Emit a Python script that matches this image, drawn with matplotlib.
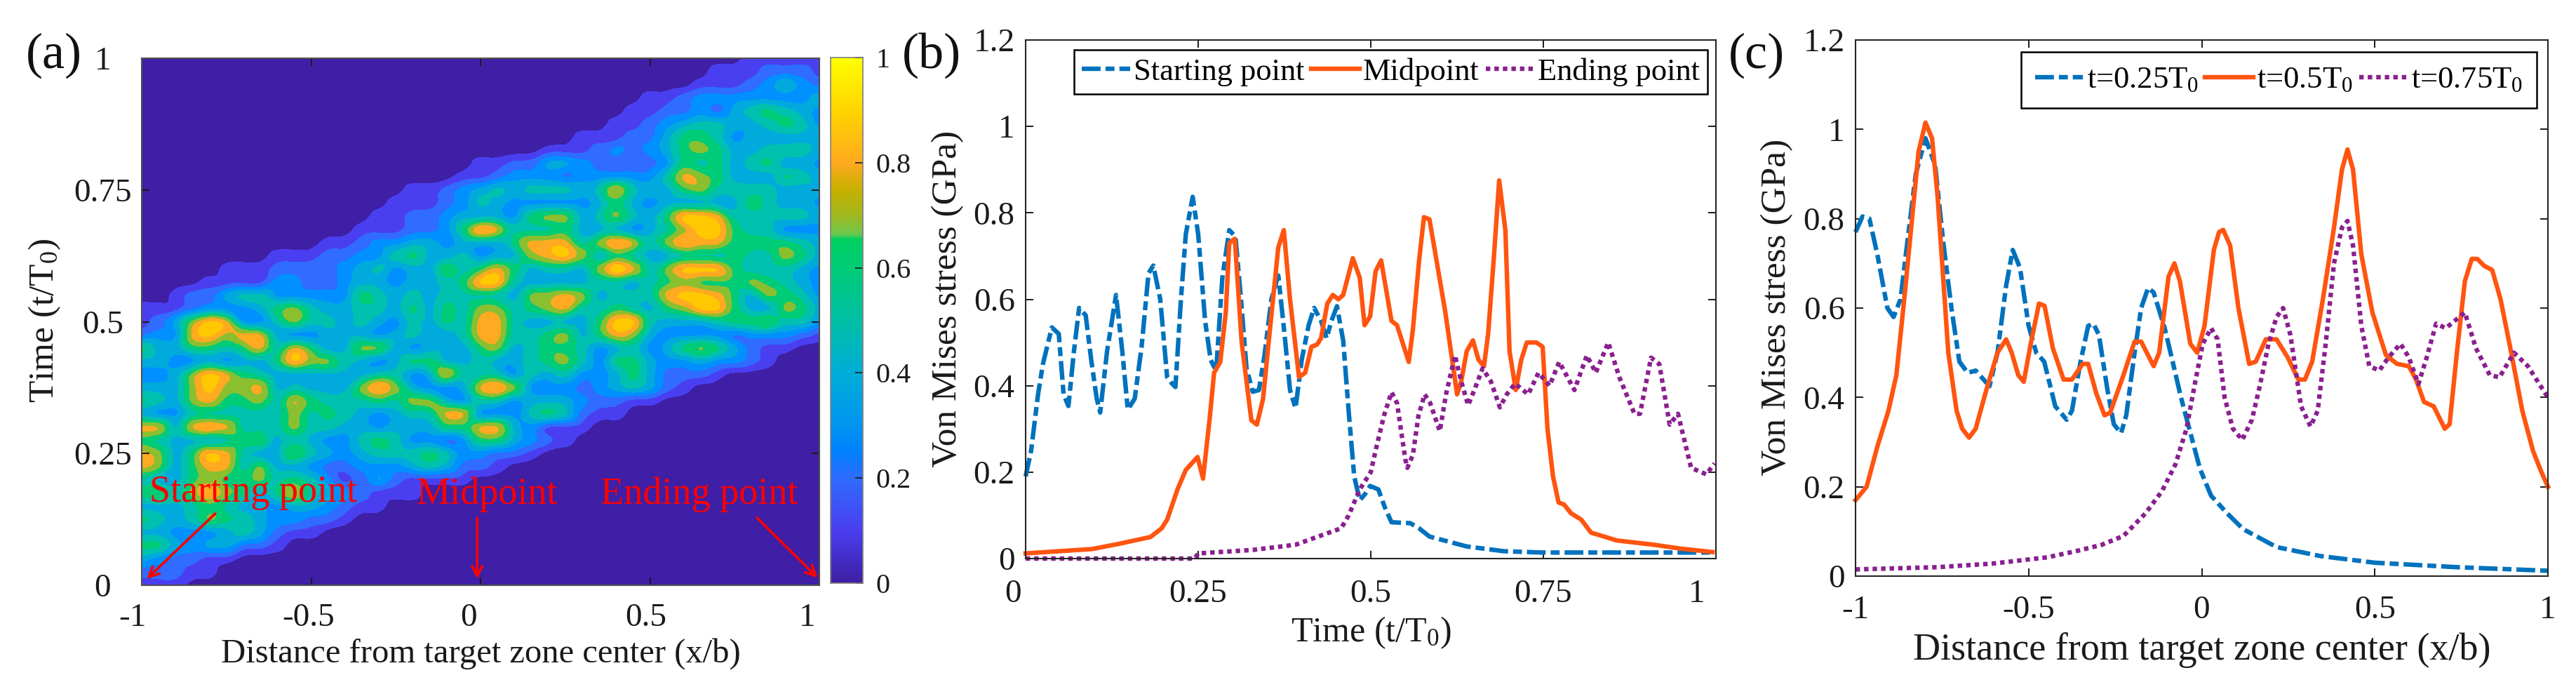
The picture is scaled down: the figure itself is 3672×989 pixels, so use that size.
import numpy as np
import matplotlib
matplotlib.use("Agg")
import matplotlib.pyplot as plt
import matplotlib.tri as mtri
from matplotlib.colors import LinearSegmentedColormap
from matplotlib.transforms import ScaledTranslation

plt.rcParams["font.family"] = ["Liberation Serif", "DejaVu Serif"]
plt.rcParams["mathtext.fontset"] = "custom"
plt.rcParams["mathtext.rm"] = "Liberation Serif"
plt.rcParams["mathtext.default"] = "regular"

W, H = 3672, 989

# panel (a): band number per cell, x from -1 to 1 in 41 columns, rows t=1 down to t=0
field_rows = [
    "00000 00000 00000 00000 00000 00000 00000 01111 1",
    "00000 00000 00000 00000 00000 00000 00001 11222 1",
    "00000 00000 00000 00000 00000 00000 00011 12353 2",
    "00000 00000 00000 00000 00000 00000 11233 33333 4",
    "00000 00000 00000 00000 00000 00001 12232 45654 3",
    "00000 00000 00000 00000 00000 00011 23455 44565 3",
    "00000 00000 00000 00000 00000 01112 24665 34444 4",
    "00000 00000 00000 00000 00001 11232 34676 44555 4",
    "00000 00000 00000 00000 11224 43222 23656 45644 3",
    "00000 00000 00000 00001 12333 23333 35876 44465 4",
    "00000 00000 00000 01123 45455 54585 44675 55544 4",
    "00000 00000 00000 11123 54333 33464 34444 46544 3",
    "00000 00000 00001 12234 44367 74575 46998 55555 4",
    "00000 00000 00011 12236 98555 64443 45799 65533 3",
    "00000 00000 01123 34434 44688 85798 57988 66665 4",
    "00000 00011 12233 56445 34478 97465 44555 65576 4",
    "00000 11122 22345 34475 68645 547A8 57999 65554 3",
    "00001 11133 22344 34456 99544 44554 56766 67654 3",
    "00122 45533 33365 45455 55477 87455 58998 64765 3",
    "11123 33467 54455 46465 77567 85565 46799 64476 4",
    "12479 83357 55454 35465 88544 44699 54445 66755 3",
    "23389 78843 34443 45445 88556 74687 43333 23332 1",
    "64466 56858 64477 43444 67456 65345 34676 42110 0",
    "44334 34469 77543 46644 54456 75366 43343 32100 0",
    "33479 86544 44445 53485 55354 53346 42221 00000 0",
    "44479 77845 44479 74334 89733 32345 42100 00000 0",
    "65478 66758 65556 57743 55344 43221 10000 00000 0",
    "43355 55557 56543 45588 33356 52110 00000 00000 0",
    "88489 85557 55443 44466 88431 11000 00000 00000 0",
    "65444 56745 43356 53323 66432 10000 00000 00000 0",
    "87469 85447 54345 55653 32210 00000 00000 00000 0",
    "87468 85744 32233 34542 21000 00000 00000 00000 0",
    "54467 66756 53124 21111 00000 00000 00000 00000 0",
    "67579 76468 54321 11000 00000 00000 00000 00000 0",
    "44456 54434 43211 00000 00000 00000 00000 00000 0",
    "65457 65433 22100 00000 00000 00000 00000 00000 0",
    "44333 45421 10000 00000 00000 00000 00000 00000 0",
    "66434 42210 00000 00000 00000 00000 00000 00000 0",
    "43221 10000 00000 00000 00000 00000 00000 00000 0",
    "22211 00000 00000 00000 00000 00000 00000 00000 0",
    "11100 00000 00000 00000 00000 00000 00000 00000 0",
]
band_colors = ["#3f1fa5", "#4a3ff0", "#2f6cff", "#0090ff", "#00aadc", "#00c0b0",
               "#00cc77", "#8abf30", "#ffaa20", "#ffc800", "#ffe600"]
cbar_stops = [(0, "#3f1fa5"), (0.1, "#4a3ff0"), (0.2, "#2f6cff"), (0.25, "#0082ff"),
              (0.3, "#0095f0"), (0.4, "#00aed8"), (0.5, "#00bfa5"), (0.6, "#00cc77"),
              (0.655, "#00d060"), (0.665, "#6fc850"), (0.7, "#a0b820"), (0.75, "#c8b000"),
              (0.8, "#ffaa20"), (0.85, "#ffbf10"), (0.9, "#ffd500"), (1, "#ffff00")]

# panel (b)
start_t = [0, .008, .018, .025, .038, .048, .055, .062, .07, .0775, .087, .095, .103, .108, .118, .131, .14, .148, .158, .168, .178, .185, .195, .205, .212, .217, .225, .232, .242, .25, .26, .268, .276, .285, .295, .304, .312, .32, .329, .338, .346, .356, .366, .375, .383, .391, .4, .41, .418, .428, .436, .443, .451, .46, .468, .476, .484, .492, .499, .511, .52, .53, .557, .57, .585, .639, .693, .747, .995]
start_v = [.19, .25, .38, .45, .535, .52, .38, .353, .48, .58, .563, .46, .37, .338, .48, .61, .48, .345, .37, .49, .66, .678, .6, .42, .405, .397, .6, .75, .837, .75, .55, .46, .434, .65, .76, .745, .6, .44, .386, .39, .47, .6, .655, .52, .39, .348, .46, .54, .58, .55, .51, .55, .584, .505, .34, .19, .135, .15, .168, .16, .12, .084, .082, .07, .051, .028, .017, .014, .014]
mid_t = [0, .096, .135, .181, .197, .205, .22, .232, .249, .257, .267, .273, .282, .29, .295, .303, .313, .327, .335, .344, .352, .366, .374, .383, .396, .405, .414, .422, .428, .437, .445, .453, .46, .474, .484, .491, .499, .507, .515, .53, .538, .546, .555, .561, .57, .577, .585, .592, .608, .625, .631, .639, .648, .656, .664, .67, .678, .686, .695, .701, .71, .718, .726, .74, .749, .756, .764, .772, .78, .79, .805, .819, .84, .856, .91, .949, .995]
mid_v = [.012, .022, .034, .05, .07, .09, .16, .205, .235, .185, .33, .43, .455, .57, .73, .74, .5, .32, .31, .37, .5, .72, .76, .6, .42, .43, .49, .495, .51, .59, .61, .6, .61, .695, .65, .54, .56, .665, .69, .55, .54, .5, .455, .53, .69, .79, .785, .72, .57, .38, .41, .48, .505, .46, .445, .52, .69, .875, .76, .48, .39, .46, .5, .5, .49, .3, .19, .13, .125, .105, .09, .06, .05, .042, .032, .023, .015]
end_t = [0, .245, .25, .329, .391, .422, .457, .468, .484, .5, .507, .519, .53, .538, .55, .553, .561, .569, .578, .586, .6, .609, .622, .631, .641, .65, .662, .674, .687, .697, .709, .728, .743, .759, .773, .795, .813, .826, .844, .86, .882, .89, .906, .918, .933, .945, .964, .986, .998]
end_v = [0, 0, .012, .02, .032, .05, .07, .1, .16, .2, .25, .33, .385, .36, .23, .21, .24, .33, .38, .36, .295, .38, .47, .41, .355, .39, .44, .41, .35, .38, .405, .38, .43, .4, .455, .39, .47, .43, .5, .42, .335, .335, .465, .45, .31, .335, .21, .195, .22]

# panel (c)
t25_x = [-1, -.98, -.96, -.937, -.908, -.89, -.87, -.85, -.826, -.798, -.77, -.747, -.723, -.7, -.676, -.653, -.613, -.59, -.565, -.546, -.525, -.5, -.478, -.455, -.423, -.39, -.375, -.35, -.328, -.313, -.297, -.273, -.254, -.233, -.218, -.194, -.175, -.155, -.139, -.107, -.084, -.06, -.036, -.005, .027, .074, .12, .216, .342, .5, .737, 1]
t25_v = [.77, .805, .80, .72, .6, .58, .62, .75, .9, .98, .92, .75, .6, .48, .455, .46, .425, .5, .65, .73, .69, .56, .5, .48, .38, .35, .37, .48, .56, .565, .54, .42, .34, .32, .36, .5, .6, .645, .635, .555, .48, .4, .33, .24, .18, .14, .105, .065, .045, .03, .02, .012]
t50_x = [-1, -.968, -.937, -.905, -.882, -.858, -.818, -.798, -.779, -.763, -.732, -.708, -.692, -.672, -.653, -.621, -.59, -.565, -.549, -.53, -.514, -.494, -.47, -.454, -.43, -.399, -.375, -.344, -.328, -.305, -.281, -.265, -.226, -.194, -.175, -.139, -.123, -.096, -.079, -.063, -.033, -.013, .008, .035, .05, .062, .082, .106, .137, .156, .185, .216, .248, .279, .298, .319, .35, .382, .405, .421, .437, .461, .493, .532, .564, .598, .619, .642, .67, .702, .716, .737, .76, .78, .796, .815, .839, .863, .894, .926, .957, .98, 1]
t50_v = [.17, .2, .29, .37, .45, .63, .95, 1.015, .98, .85, .5, .37, .33, .31, .33, .42, .5, .53, .5, .45, .435, .52, .61, .605, .51, .44, .44, .475, .475, .41, .36, .365, .45, .525, .525, .47, .5, .67, .7, .66, .52, .5, .56, .73, .77, .775, .74, .6, .475, .48, .53, .53, .49, .44, .44, .48, .62, .78, .91, .955, .91, .72, .59, .495, .475, .47, .44, .39, .38, .33, .34, .5, .66, .71, .71, .695, .685, .62, .5, .37, .28, .235, .2]
t75_x = [-1, -.763, -.605, -.447, -.368, -.289, -.226, -.163, -.115, -.076, -.044, -.02, .003, .027, .046, .066, .09, .117, .145, .169, .193, .216, .235, .256, .287, .314, .335, .358, .382, .405, .421, .437, .461, .484, .513, .54, .574, .598, .626, .65, .677, .705, .76, .792, .832, .86, .902, .942, 1]
t75_v = [.015, .02, .028, .042, .055, .07, .09, .14, .19, .25, .33, .43, .52, .555, .53, .4, .33, .305, .35, .43, .52, .58, .6, .54, .38, .335, .37, .52, .7, .78, .795, .74, .56, .47, .46, .49, .52, .49, .43, .49, .565, .555, .59, .51, .45, .445, .5, .47, .4]

x_ticks = [-1, -0.5, 0, 0.5, 1]
t_ticks = [0, 0.25, 0.5, 0.75, 1]
stress_ticks = [0, 0.2, 0.4, 0.6, 0.8, 1, 1.2]
cbar_ticks = [0, 0.2, 0.4, 0.6, 0.8, 1]

BLUE = "#0072bd"
ORANGE = "#ff5510"
PURPLE = "#8a2090"
FS = 34
LW = 4.6
DASHDOT = (0, (4.2, 1.1, 2, 1.1))
DOT = (0, (1, 0.9))


def fmt(v):
    return f"{v:g}"


def place(left, right, top, bottom):
    return fig.add_axes([left / W, 1 - bottom / H, (right - left) / W, (bottom - top) / H])


def dress(ax, xticks, yticks, pad_x, pad_y, xlabel, ylabel, label_y_px, label_x_px, label_mid_px, box, xlabel_fs=36):
    left, right, top, bottom = box
    ax.set_xticks(xticks, [fmt(v) for v in xticks])
    ax.set_yticks(yticks, [fmt(v) for v in yticks])
    ax.tick_params(direction="in", length=8, width=1.4, top=True, right=True, labelsize=FS,
                   colors="#1a1a1a")
    ax.tick_params(axis="x", pad=pad_x)
    ax.tick_params(axis="y", pad=pad_y)
    for s in ax.spines.values():
        s.set_linewidth(1.5)
        s.set_color("#262626")
    ax.set_xlabel(xlabel, fontsize=xlabel_fs, color="#1a1a1a", va="center")
    ax.xaxis.set_label_coords(0.5, (bottom - label_y_px) / (bottom - top))
    ax.set_ylabel(ylabel, fontsize=37, color="#1a1a1a", va="center")
    ax.yaxis.set_label_coords((label_x_px - left) / (right - left), (bottom - label_mid_px) / (bottom - top))


def nudge_xlabels(ax, shifts_px):
    # the 0 and 1 labels sit a little left of their ticks in the original
    for lab, dx in zip(ax.get_xticklabels(), shifts_px):
        lab.set_transform(lab.get_transform() + ScaledTranslation(dx / 100, 0, fig.dpi_scale_trans))


def soften(z, sigma):
    half = int(3 * sigma)
    kernel = np.exp(-0.5 * (np.arange(-half, half + 1) / sigma) ** 2)
    kernel /= kernel.sum()
    padded = np.pad(z, half, mode="edge")
    padded = np.apply_along_axis(np.convolve, 0, padded, kernel, mode="same")
    padded = np.apply_along_axis(np.convolve, 1, padded, kernel, mode="same")
    return padded[half:-half, half:-half]


fig = plt.figure(figsize=(W / 100, H / 100), dpi=100, facecolor="white")

# (a) contour map
box_a = (202, 1168, 83, 834)
ax_a = place(box_a[0], box_a[1], box_a[2], box_a[3])
grid = np.array([[int(c, 16) for c in row.replace(" ", "")] for row in field_rows], dtype=float)[::-1]
xs = np.linspace(-1, 1, grid.shape[1])
ts = np.linspace(0, 1, grid.shape[0])
xx, tt = np.meshgrid(xs, ts)
tri = mtri.Triangulation(xx.ravel(), tt.ravel())
smooth = mtri.CubicTriInterpolator(tri, grid.ravel(), kind="geom")
xf, tf = np.meshgrid(np.linspace(-1, 1, 401), np.linspace(0, 1, 401))
zf = soften(np.clip(np.ma.filled(smooth(xf, tf), 0), 0, 10), 2.5)
ax_a.contourf(xf, tf, zf, levels=np.arange(-0.5, 11), colors=band_colors)
ax_a.set_xlim(-1, 1)
ax_a.set_ylim(0, 1)
dress(ax_a, x_ticks, t_ticks, 18, 40, "Distance from target zone center (x/b)", "Time (t/T$_0$)",
      932, 64, 457, box_a, xlabel_fs=35)
for lab in ax_a.get_yticklabels():
    lab.set_ha("center")
for s in ax_a.spines.values():
    s.set_color("#505050")
nudge_xlabels(ax_a, [-13, -4, -17, -6, -17])

red_labels = [("Starting point", -0.67, 0.176), ("Midpoint", 0.02, 0.172), ("Ending point", 0.645, 0.172)]
for txt, x0, y0 in red_labels:
    ax_a.text(x0, y0, txt, color="#ff0000", fontsize=39, ha="center", va="center")
red_arrows = [((-0.783, 0.136), (-0.985, 0.012)), ((-0.01, 0.128), (-0.01, 0.012)), ((0.816, 0.128), (0.995, 0.014))]
for tail, tip in red_arrows:
    ax_a.annotate("", xy=tip, xytext=tail,
                  arrowprops=dict(arrowstyle="->", color="#ff0000", lw=2.6, mutation_scale=26,
                                  shrinkA=0, shrinkB=0))

# colorbar
cax = place(1184, 1230, 82, 831)
cmap = LinearSegmentedColormap.from_list("bands", cbar_stops, N=256)
cax.imshow(np.linspace(1, 0, 256)[:, None], cmap=cmap, vmin=0, vmax=1, aspect="auto",
           extent=[0, 1, 0, 1])
cax.set_xticks([])
cax.set_yticks(cbar_ticks, [fmt(v) for v in cbar_ticks])
cax.yaxis.tick_right()
cax.tick_params(direction="in", length=8, width=1.2, labelsize=29, pad=13, colors="#1a1a1a")
for s in cax.spines.values():
    s.set_linewidth(1.2)
    s.set_color("#808080")

# (b) stress history
box_b = (1462, 2446, 57, 796)
ax_b = place(box_b[0], box_b[1], box_b[2], box_b[3])
ax_b.plot(start_t, start_v, color=BLUE, lw=LW, ls=DASHDOT, label="Starting point", clip_on=False)
ax_b.plot(mid_t, mid_v, color=ORANGE, lw=LW, label="Midpoint", clip_on=False)
ax_b.plot(end_t, end_v, color=PURPLE, lw=LW, ls=DOT, label="Ending point", clip_on=False)
ax_b.set_xlim(0, 1)
ax_b.set_ylim(0, 1.2)
dress(ax_b, t_ticks, stress_ticks, 21, 11, "Time (t/T$_0$)", "Von Mises stress (GPa)",
      902, 1351, 426, box_b)
nudge_xlabels(ax_b, [-18, 0, 0, 0, -27])
leg_b = ax_b.legend(loc="upper right", bbox_to_anchor=((2434 - 1462) / 984, 1 - 14 / 739), ncol=3, fontsize=32,
                    frameon=True, fancybox=False, framealpha=1, edgecolor="black", borderaxespad=0,
                    handlelength=1.55, handletextpad=0.12, columnspacing=0.2, borderpad=0.25)
leg_b.get_frame().set_linewidth(1.8)

# (c) stress along the zone
box_c = (2645, 3632, 57, 821)
ax_c = place(box_c[0], box_c[1], box_c[2], box_c[3])
ax_c.plot(t25_x, t25_v, color=BLUE, lw=LW, ls=DASHDOT, label="t=0.25T$_0$", clip_on=False)
ax_c.plot(t50_x, t50_v, color=ORANGE, lw=LW, label="t=0.5T$_0$", clip_on=False)
ax_c.plot(t75_x, t75_v, color=PURPLE, lw=LW, ls=DOT, label="t=0.75T$_0$", clip_on=False)
ax_c.set_xlim(-1, 1)
ax_c.set_ylim(0, 1.2)
dress(ax_c, x_ticks, stress_ticks, 20, 11, "Distance from target zone center (x/b)", "Von Mises stress (GPa)",
      927, 2533, 438, box_c, xlabel_fs=39)
leg_c = ax_c.legend(loc="upper right", bbox_to_anchor=(1 - 16 / 987, 1 - 17 / 764), ncol=3, fontsize=32,
                    frameon=True, fancybox=False, framealpha=1, edgecolor="black", borderaxespad=0,
                    handlelength=1.55, handletextpad=0.12, columnspacing=0.2, borderpad=0.45)
leg_c.get_frame().set_linewidth(1.8)

panel_tags = [("(a)", 77), ("(b)", 1328), ("(c)", 2504)]
for tag, px in panel_tags:
    fig.text(px / W, 1 - 79 / H, tag, fontsize=52, ha="center", va="center", color="#111111")

fig.savefig("out.png", dpi=100)
